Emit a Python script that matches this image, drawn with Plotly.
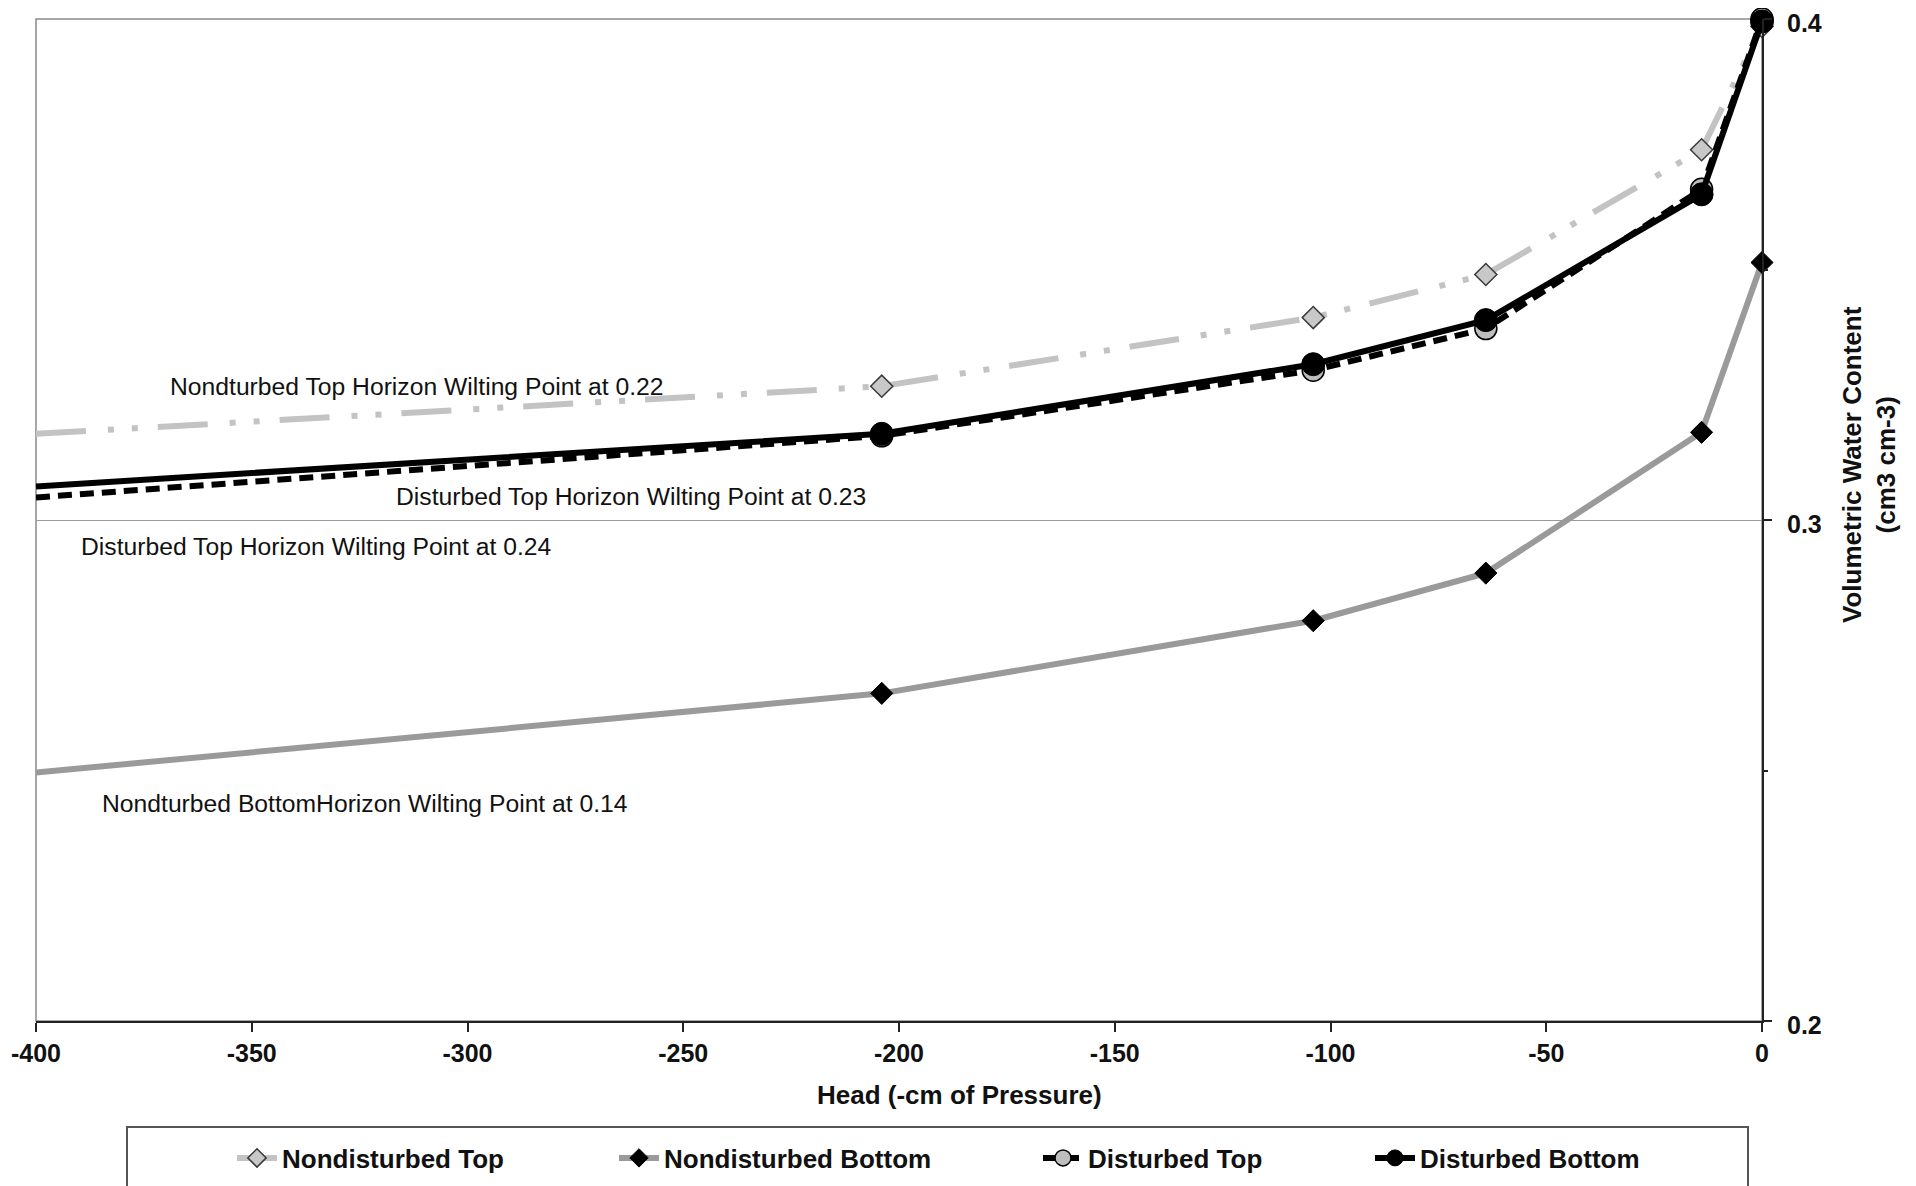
import plotly.graph_objects as go

# ---- data ----
head = [-400, -204, -104, -64, -14, 0]
nd_top = [0.3172, 0.3267, 0.3404, 0.3490, 0.3739, 0.3985]
nd_bottom = [0.2496, 0.2654, 0.2799, 0.2894, 0.3175, 0.3514]
d_top = [0.3045, 0.3168, 0.3299, 0.3382, 0.3660, 0.4000]
d_bottom = [0.3067, 0.3172, 0.3311, 0.3399, 0.3650, 0.3995]
series_names = ["Nondisturbed Top", "Nondisturbed Bottom", "Disturbed Top", "Disturbed Bottom"]
x_ticks = [-400, -350, -300, -250, -200, -150, -100, -50, 0]
y_ticks = [0.2, 0.3, 0.4]
notes = [
    "Nondturbed Top Horizon Wilting Point at 0.22",
    "Disturbed Top Horizon Wilting Point at 0.23",
    "Disturbed Top Horizon Wilting Point at 0.24",
    "Nondturbed BottomHorizon Wilting Point at 0.14",
]

# ---- layout geometry (pixels); page has an 8px body margin ----
OFF = 8
W, H = 1908, 1178
ML, MR, MT, MB = 28, 154, 11, 165
PW, PH = W - ML - MR, H - MT - MB
FONT = "Liberation Sans, Arial, sans-serif"


def px_x(p):
    """page pixel -> paper x"""
    return (p - OFF - ML) / PW


def px_y(p):
    """page pixel -> paper y"""
    return (H - MB - (p - OFF)) / PH


def sizes(s):
    return [0] + [s] * (len(head) - 1)


fig = go.Figure()

fig.add_trace(go.Scatter(
    x=head, y=nd_top, name=series_names[0], mode="lines+markers", legend="legend",
    line=dict(color="#c3c3c3", width=6, dash="50px,22px,6px,18px,6px,20px"),
    marker=dict(symbol="diamond", size=sizes(17), color="#c8c8c8", opacity=1,
                line=dict(color="#3a3a3a", width=1.5)),
    cliponaxis=False,
))
fig.add_trace(go.Scatter(
    x=head, y=nd_bottom, name=series_names[1], mode="lines+markers", legend="legend2",
    line=dict(color="#9a9a9a", width=6),
    marker=dict(symbol="diamond", size=sizes(17), color="#000000", opacity=1,
                line=dict(color="#000000", width=1)),
    cliponaxis=False,
))
fig.add_trace(go.Scatter(
    x=head, y=d_top, name=series_names[2], mode="lines+markers", legend="legend3",
    line=dict(color="#000000", width=6, dash="14px,8px"),
    marker=dict(symbol="circle", size=sizes(22), color="#bdbdbd", opacity=1,
                line=dict(color="#000000", width=1.5)),
    cliponaxis=False,
))
fig.add_trace(go.Scatter(
    x=head, y=d_bottom, name=series_names[3], mode="lines+markers", legend="legend4",
    line=dict(color="#000000", width=6),
    marker=dict(symbol="circle", size=sizes(23), color="#000000", opacity=1,
                line=dict(color="#000000", width=1)),
    cliponaxis=False,
))

# annotation positions in data coordinates
note_pos = [(-311.6, 0.3266), (-262.0, 0.3046), (-335.2, 0.2947), (-323.7, 0.2434)]
for txt, (ax, ay) in zip(notes, note_pos):
    fig.add_annotation(x=ax, y=ay, xref="x", yref="y", text=txt, showarrow=False,
                       font=dict(family=FONT, size=24.7, color="#111111"),
                       xanchor="center", yanchor="middle")

# axis titles
fig.add_annotation(x=px_x(959), y=px_y(1095), xref="paper", yref="paper",
                   text="Head (-cm of Pressure)", showarrow=False,
                   font=dict(family=FONT, size=26, color="#111111", weight="bold"),
                   xanchor="center", yanchor="middle")
fig.add_annotation(x=px_x(1869), y=px_y(465), xref="paper", yref="paper",
                   text="Volumetric Water Content<br>(cm3 cm-3)", showarrow=False,
                   textangle=-90,
                   font=dict(family=FONT, size=26, color="#111111", weight="bold"),
                   xanchor="center", yanchor="middle")

# plot-area border (top/left grey) and legend box
fig.add_shape(type="rect", xref="paper", yref="paper", x0=0, x1=1, y0=0, y1=1,
              line=dict(color="#8a8a8a", width=1.5), layer="below")
fig.add_shape(type="rect", xref="paper", yref="paper",
              x0=px_x(127), x1=px_x(1748), y0=px_y(1127), y1=px_y(1215),
              line=dict(color="#555555", width=2))

legend_common = dict(orientation="h", yanchor="middle", xanchor="left",
                     bgcolor="rgba(0,0,0,0)", borderwidth=0, itemwidth=40,
                     font=dict(family=FONT, size=26, color="#111111", weight="bold"))
text_starts = [284, 666, 1090, 1422]
ly = px_y(1158)
fig.update_layout(
    legend=dict(x=px_x(text_starts[0] - 52), y=ly, **legend_common),
    legend2=dict(x=px_x(text_starts[1] - 52), y=ly, **legend_common),
    legend3=dict(x=px_x(text_starts[2] - 52), y=ly, **legend_common),
    legend4=dict(x=px_x(text_starts[3] - 52), y=ly, **legend_common),
)

fig.update_layout(
    width=W, height=H,
    margin=dict(l=ML, r=MR, t=MT, b=MB, autoexpand=False),
    paper_bgcolor="white", plot_bgcolor="white",
    showlegend=True,
    xaxis=dict(range=[-400, 0], tickvals=x_ticks, ticktext=[str(v) for v in x_ticks],
               showgrid=False, zeroline=False, showline=True, linecolor="#222222", linewidth=2,
               ticks="outside", ticklen=9, tickcolor="#222222", tickwidth=1.5,
               ticklabeloverflow="allow",
               tickfont=dict(family=FONT, size=25, color="#111111", weight="bold"),
               automargin=False, fixedrange=True),
    yaxis=dict(range=[0.2, 0.4], side="right", tickvals=y_ticks,
               ticktext=["0.2", "0.3", "0.4"],
               showgrid=True, gridcolor="#9a9a9a", gridwidth=1, zeroline=False,
               showline=True, linecolor="#222222", linewidth=2,
               ticks="outside", ticklen=8, tickcolor="#222222", tickwidth=1.5,
               minor=dict(dtick=0.05, tick0=0.2, ticks="outside", ticklen=4,
                          tickcolor="#222222", showgrid=False),
               ticklabelstandoff=10, ticklabeloverflow="allow", ticklabelshift=4,
               tickfont=dict(family=FONT, size=25, color="#111111", weight="bold"),
               automargin=False, fixedrange=True),
)

fig.write_html("out.html")
